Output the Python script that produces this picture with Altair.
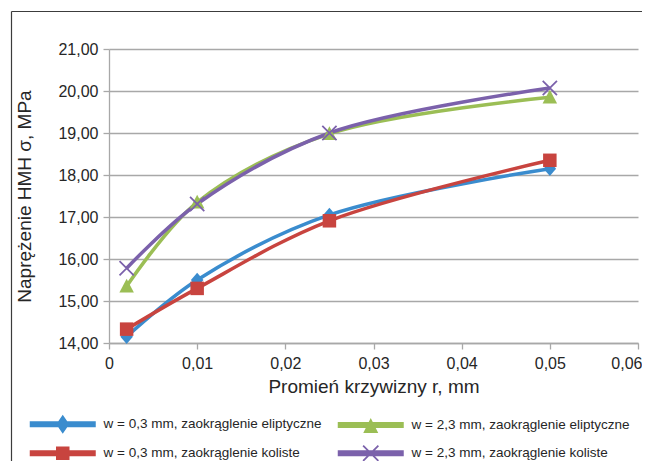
import altair as alt
import pandas as pd

# ---- data ----
r_vals = [0.002, 0.01, 0.025, 0.05]
s_blue = [14.15, 15.50, 17.05, 18.15]
s_green = [15.35, 17.35, 18.98, 19.85]
s_red = [14.33, 15.30, 16.91, 18.35]
s_purple = [15.78, 17.31, 19.00, 20.07]

names = [
    "w = 0,3 mm, zaokrąglenie eliptyczne",
    "w = 2,3 mm, zaokrąglenie eliptyczne",
    "w = 0,3 mm, zaokrąglenie koliste",
    "w = 2,3 mm, zaokrąglenie koliste",
]
colors = ["#3A8CCE", "#9BBE55", "#C8443F", "#7B61AB"]
x_ticks = [0, 0.01, 0.02, 0.03, 0.04, 0.05, 0.06]
y_ticks = [14, 15, 16, 17, 18, 19, 20, 21]

x_title = "Promień krzywizny r, mm"
y_title = "Naprężenie HMH σ, MPa"

rows = []
for name, vals in zip(names, [s_blue, s_green, s_red, s_purple]):
    for i, (rv, v) in enumerate(zip(r_vals, vals)):
        rows.append({"r": rv, "sigma": v, "series": name, "i": i})
df = pd.DataFrame(rows)

# legend entry order (2 columns)
legend_order = [names[0], names[2], names[1], names[3]]

# ---- marker shapes (unit = sqrt(size)/2 px) ----
bar = "M-6.6,-0.6L6.6,-0.6L6.6,0.6L-6.6,0.6Z"
mk_diamond = "M0,-1.45L1.25,0L0,1.45L-1.25,0Z"
mk_square = "M-1.35,-1.35L1.35,-1.35L1.35,1.35L-1.35,1.35Z"
mk_tri = "M0,-1.5L1.45,1.25L-1.45,1.25Z"
mk_x = ("M-1.55,-1.3L-1.3,-1.55L1.55,1.3L1.3,1.55Z"
        "M1.3,-1.55L1.55,-1.3L-1.3,1.55L-1.55,1.3Z")
leg_diamond = bar + "M0,-1.9L1.3,0L0,1.9L-1.3,0Z"
leg_square = bar + mk_square
leg_tri = bar + "M0,-1.4L1.5,1.6L-1.5,1.6Z"
leg_x = bar + ("M-1.65,-1.4L-1.4,-1.65L1.65,1.4L1.4,1.65Z"
               "M1.4,-1.65L1.65,-1.4L-1.4,1.65L-1.65,1.4Z")

FONT = "Liberation Sans"
GRAY = "#A8A8A8"
TXT = "#262626"

W, H = 529, 294

xscale = alt.Scale(domain=[0, 0.06], nice=False, zero=False)
yscale = alt.Scale(domain=[14, 21], nice=False, zero=False)
cscale = alt.Scale(domain=names, range=colors)

x_enc = alt.X("r:Q", scale=xscale, axis=alt.Axis(
    values=x_ticks, labelExpr="replace(format(datum.value, '.2~f'), '.', ',')",
    labelAlign=alt.ExprRef(expr="datum.value >= 0.059 ? 'right' : 'center'"),
    labelOffset=alt.ExprRef(expr="datum.value >= 0.059 ? 4 : 0"),
    grid=False, domainColor=GRAY, domainWidth=1.3, tickColor=GRAY, tickWidth=1.3,
    tickSize=6, labelFont=FONT, labelFontSize=16, labelColor=TXT, labelPadding=6,
    labelOverlap=False, labelBound=False, labelFlush=False,
    title=x_title, titleFont=FONT, titleFontSize=19, titleFontWeight="normal",
    titleColor=TXT, titlePadding=6))
y_enc = alt.Y("sigma:Q", scale=yscale, axis=alt.Axis(
    values=y_ticks, labelExpr="replace(format(datum.value, '.2f'), '.', ',')",
    grid=True, gridColor=GRAY, gridWidth=1.3, domainColor=GRAY, domainWidth=1.3,
    tickColor=GRAY, tickWidth=1.3, tickSize=6, labelFont=FONT, labelFontSize=16,
    labelColor=TXT, labelPadding=5, labelOverlap=False,
    title=y_title, titleFont=FONT, titleFontSize=19, titleFontWeight="normal",
    titleColor=TXT, titlePadding=23))

one = pd.DataFrame({"a": [0]})
frame_top = alt.Chart(one).mark_rule(stroke="#3C3C3C", strokeWidth=1.2).encode(
    x=alt.value(-97.5), x2=alt.value(1000), y=alt.value(-37.5))
frame_left = alt.Chart(one).mark_rule(stroke="#3C3C3C", strokeWidth=1.2).encode(
    x=alt.value(-97.5), y=alt.value(-37.5), y2=alt.value(1000))

lines = alt.Chart(df).mark_line(
    interpolate="catmull-rom", strokeWidth=3.5
).encode(
    x=x_enc, y=y_enc,
    color=alt.Color("series:N", scale=cscale, legend=None),
    order="i:Q",
)

points = alt.Chart(df).mark_point(filled=True, size=100, opacity=1).encode(
    x=alt.X("r:Q", scale=xscale), y=alt.Y("sigma:Q", scale=yscale),
    color=alt.Color("series:N", scale=cscale, legend=None),
    shape=alt.Shape("series:N", scale=alt.Scale(
        domain=names, range=[mk_diamond, mk_tri, mk_square, mk_x]), legend=None),
)

leg = alt.Legend(
    orient="none", legendX=-81, legendY=368, columns=2, title=None,
    values=legend_order,
    symbolSize=100, symbolOffset=28, labelOffset=34, labelFont=FONT,
    labelFontSize=13.5, labelColor=TXT, labelLimit=500, columnPadding=14,
    rowPadding=10.5, padding=0, symbolStrokeWidth=0, symbolOpacity=1,
)
legend_layer = alt.Chart(df).transform_filter("false").mark_point(
    filled=True, size=100, opacity=1
).encode(
    x=alt.X("r:Q", scale=xscale), y=alt.Y("sigma:Q", scale=yscale),
    color=alt.Color("series:N", scale=cscale, legend=leg),
    shape=alt.Shape("series:N", scale=alt.Scale(
        domain=names, range=[leg_diamond, leg_tri, leg_square, leg_x]), legend=leg),
)

chart = alt.layer(frame_top, frame_left, lines, points, legend_layer).resolve_scale(
    color="independent", shape="independent"
).properties(
    width=W, height=H,
    autosize=alt.AutoSizeParams(type="none"),
    padding={"left": 101, "top": 41, "right": 4, "bottom": 118},
    background="white",
).configure_view(stroke=None)

chart.save("out.html", embed_options={"renderer": "svg", "actions": False})
